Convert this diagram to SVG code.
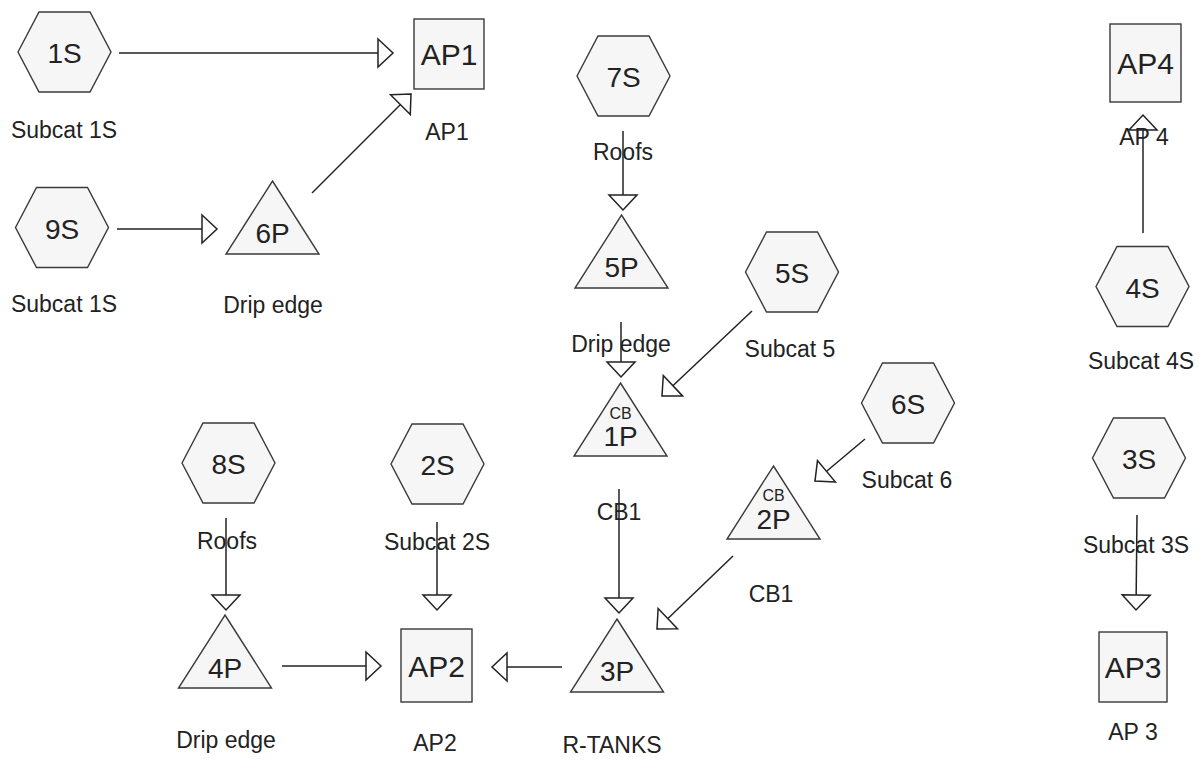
<svg xmlns="http://www.w3.org/2000/svg" xmlns:xlink="http://www.w3.org/1999/xlink" width="1199" height="761" viewBox="0 0 1199 761">
<style>
.shape{fill:#f6f6f6;stroke:#3a3a3a;stroke-width:1.4}
.big{font-family:"Liberation Sans",Arial,sans-serif;font-size:28px;fill:#222;text-anchor:middle}
.box{font-family:"Liberation Sans",Arial,sans-serif;font-size:30px;fill:#222;text-anchor:middle}
.lbl{font-family:"Liberation Sans",Arial,sans-serif;font-size:23px;fill:#222;text-anchor:middle}
.cb{font-family:"Liberation Sans",Arial,sans-serif;font-size:16px;fill:#222;text-anchor:middle}
.conn{fill:none;stroke:#222;stroke-width:1.5;marker-end:url(#arr)}
</style>
<defs>
<polygon id="hex" points="-46.5,0 -25.5,-40 25.5,-40 46.5,0 25.5,40 -25.5,40"/>
<polygon id="tri" points="0,-73 46.5,0 -46.5,0"/>
<marker id="arr" markerUnits="userSpaceOnUse" viewBox="-2 -16 19 32" markerWidth="19" markerHeight="32" refX="15" refY="0" orient="auto" overflow="visible">
<path d="M0,-14 L15,0 L0,14 Z" fill="#fff" stroke="#222" stroke-width="1.5" stroke-linejoin="miter"/>
</marker>
</defs>
<rect width="1199" height="761" fill="#fff"/>
<g id="connectors">
<line class="conn" x1="119" y1="53" x2="393" y2="53"/>
<line class="conn" x1="117" y1="229" x2="217" y2="229"/>
<line class="conn" x1="312" y1="193" x2="411" y2="94"/>
<line class="conn" x1="623" y1="131" x2="623" y2="210"/>
<line class="conn" x1="621" y1="322" x2="621" y2="377"/>
<line class="conn" x1="752" y1="311" x2="662" y2="396"/>
<line class="conn" x1="619" y1="489" x2="619" y2="613"/>
<line class="conn" x1="865" y1="439" x2="815" y2="481"/>
<line class="conn" x1="733" y1="556" x2="657" y2="629"/>
<line class="conn" x1="562" y1="667" x2="492" y2="667"/>
<line class="conn" x1="282" y1="666" x2="381" y2="666"/>
<line class="conn" x1="226" y1="518" x2="226" y2="610"/>
<line class="conn" x1="437" y1="522" x2="437" y2="610"/>
<line class="conn" x1="1143" y1="233" x2="1143" y2="115"/>
<line class="conn" x1="1137" y1="515" x2="1136" y2="610"/>
</g>
<g id="n1S"><use xlink:href="#hex" class="shape" x="64.5" y="52"/><text class="big" x="64.5" y="63">1S</text><text class="lbl" x="64" y="138">Subcat 1S</text></g>
<g id="n9S"><use xlink:href="#hex" class="shape" x="62" y="227.5"/><text class="big" x="62" y="238.5">9S</text><text class="lbl" x="64" y="312">Subcat 1S</text></g>
<g id="n6P"><use xlink:href="#tri" class="shape" x="272.5" y="254"/><text class="big" x="272.5" y="243">6P</text><text class="lbl" x="273" y="313">Drip edge</text></g>
<g id="nAP1"><rect class="shape" x="414" y="19" width="70" height="70"/><text class="box" x="449" y="65">AP1</text><text class="lbl" x="447" y="140">AP1</text></g>
<g id="n7S"><use xlink:href="#hex" class="shape" x="623.5" y="76"/><text class="big" x="623.5" y="87">7S</text><text class="lbl" x="623" y="160">Roofs</text></g>
<g id="n5P"><use xlink:href="#tri" class="shape" x="621.5" y="288"/><text class="big" x="621.5" y="277">5P</text><text class="lbl" x="621" y="352">Drip edge</text></g>
<g id="n5S"><use xlink:href="#hex" class="shape" x="792" y="272"/><text class="big" x="792" y="283">5S</text><text class="lbl" x="790" y="357">Subcat 5</text></g>
<g id="n1P"><use xlink:href="#tri" class="shape" x="620.5" y="456"/><text class="cb" x="620.5" y="419">CB</text><text class="big" x="620.5" y="446">1P</text><text class="lbl" x="619" y="520">CB1</text></g>
<g id="n6S"><use xlink:href="#hex" class="shape" x="908" y="403"/><text class="big" x="908" y="414">6S</text><text class="lbl" x="907" y="488">Subcat 6</text></g>
<g id="n2P"><use xlink:href="#tri" class="shape" x="773.5" y="539"/><text class="cb" x="773.5" y="501">CB</text><text class="big" x="773.5" y="529">2P</text><text class="lbl" x="771" y="602">CB1</text></g>
<g id="n3P"><use xlink:href="#tri" class="shape" x="617" y="692"/><text class="big" x="617" y="681">3P</text><text class="lbl" x="612" y="753">R-TANKS</text></g>
<g id="n8S"><use xlink:href="#hex" class="shape" x="228.5" y="463"/><text class="big" x="228.5" y="474">8S</text><text class="lbl" x="227" y="549">Roofs</text></g>
<g id="n2S"><use xlink:href="#hex" class="shape" x="437.5" y="464"/><text class="big" x="437.5" y="475">2S</text><text class="lbl" x="437" y="550">Subcat 2S</text></g>
<g id="n4P"><use xlink:href="#tri" class="shape" x="225" y="688"/><text class="big" x="225" y="678">4P</text><text class="lbl" x="226" y="748">Drip edge</text></g>
<g id="nAP2"><rect class="shape" x="401" y="629" width="71" height="73"/><text class="box" x="436.5" y="677">AP2</text><text class="lbl" x="435" y="751">AP2</text></g>
<g id="n4S"><use xlink:href="#hex" class="shape" x="1142.5" y="286.5"/><text class="big" x="1142.5" y="297.5">4S</text><text class="lbl" x="1141" y="369">Subcat 4S</text></g>
<g id="nAP4"><rect class="shape" x="1110" y="24" width="71" height="78"/><text class="box" x="1145.5" y="74">AP4</text><text class="lbl" x="1144" y="145">AP 4</text></g>
<g id="n3S"><use xlink:href="#hex" class="shape" x="1139" y="458"/><text class="big" x="1139" y="469">3S</text><text class="lbl" x="1136" y="553">Subcat 3S</text></g>
<g id="nAP3"><rect class="shape" x="1099" y="632" width="68" height="70"/><text class="box" x="1133" y="678">AP3</text><text class="lbl" x="1133" y="740">AP 3</text></g>
</svg>
